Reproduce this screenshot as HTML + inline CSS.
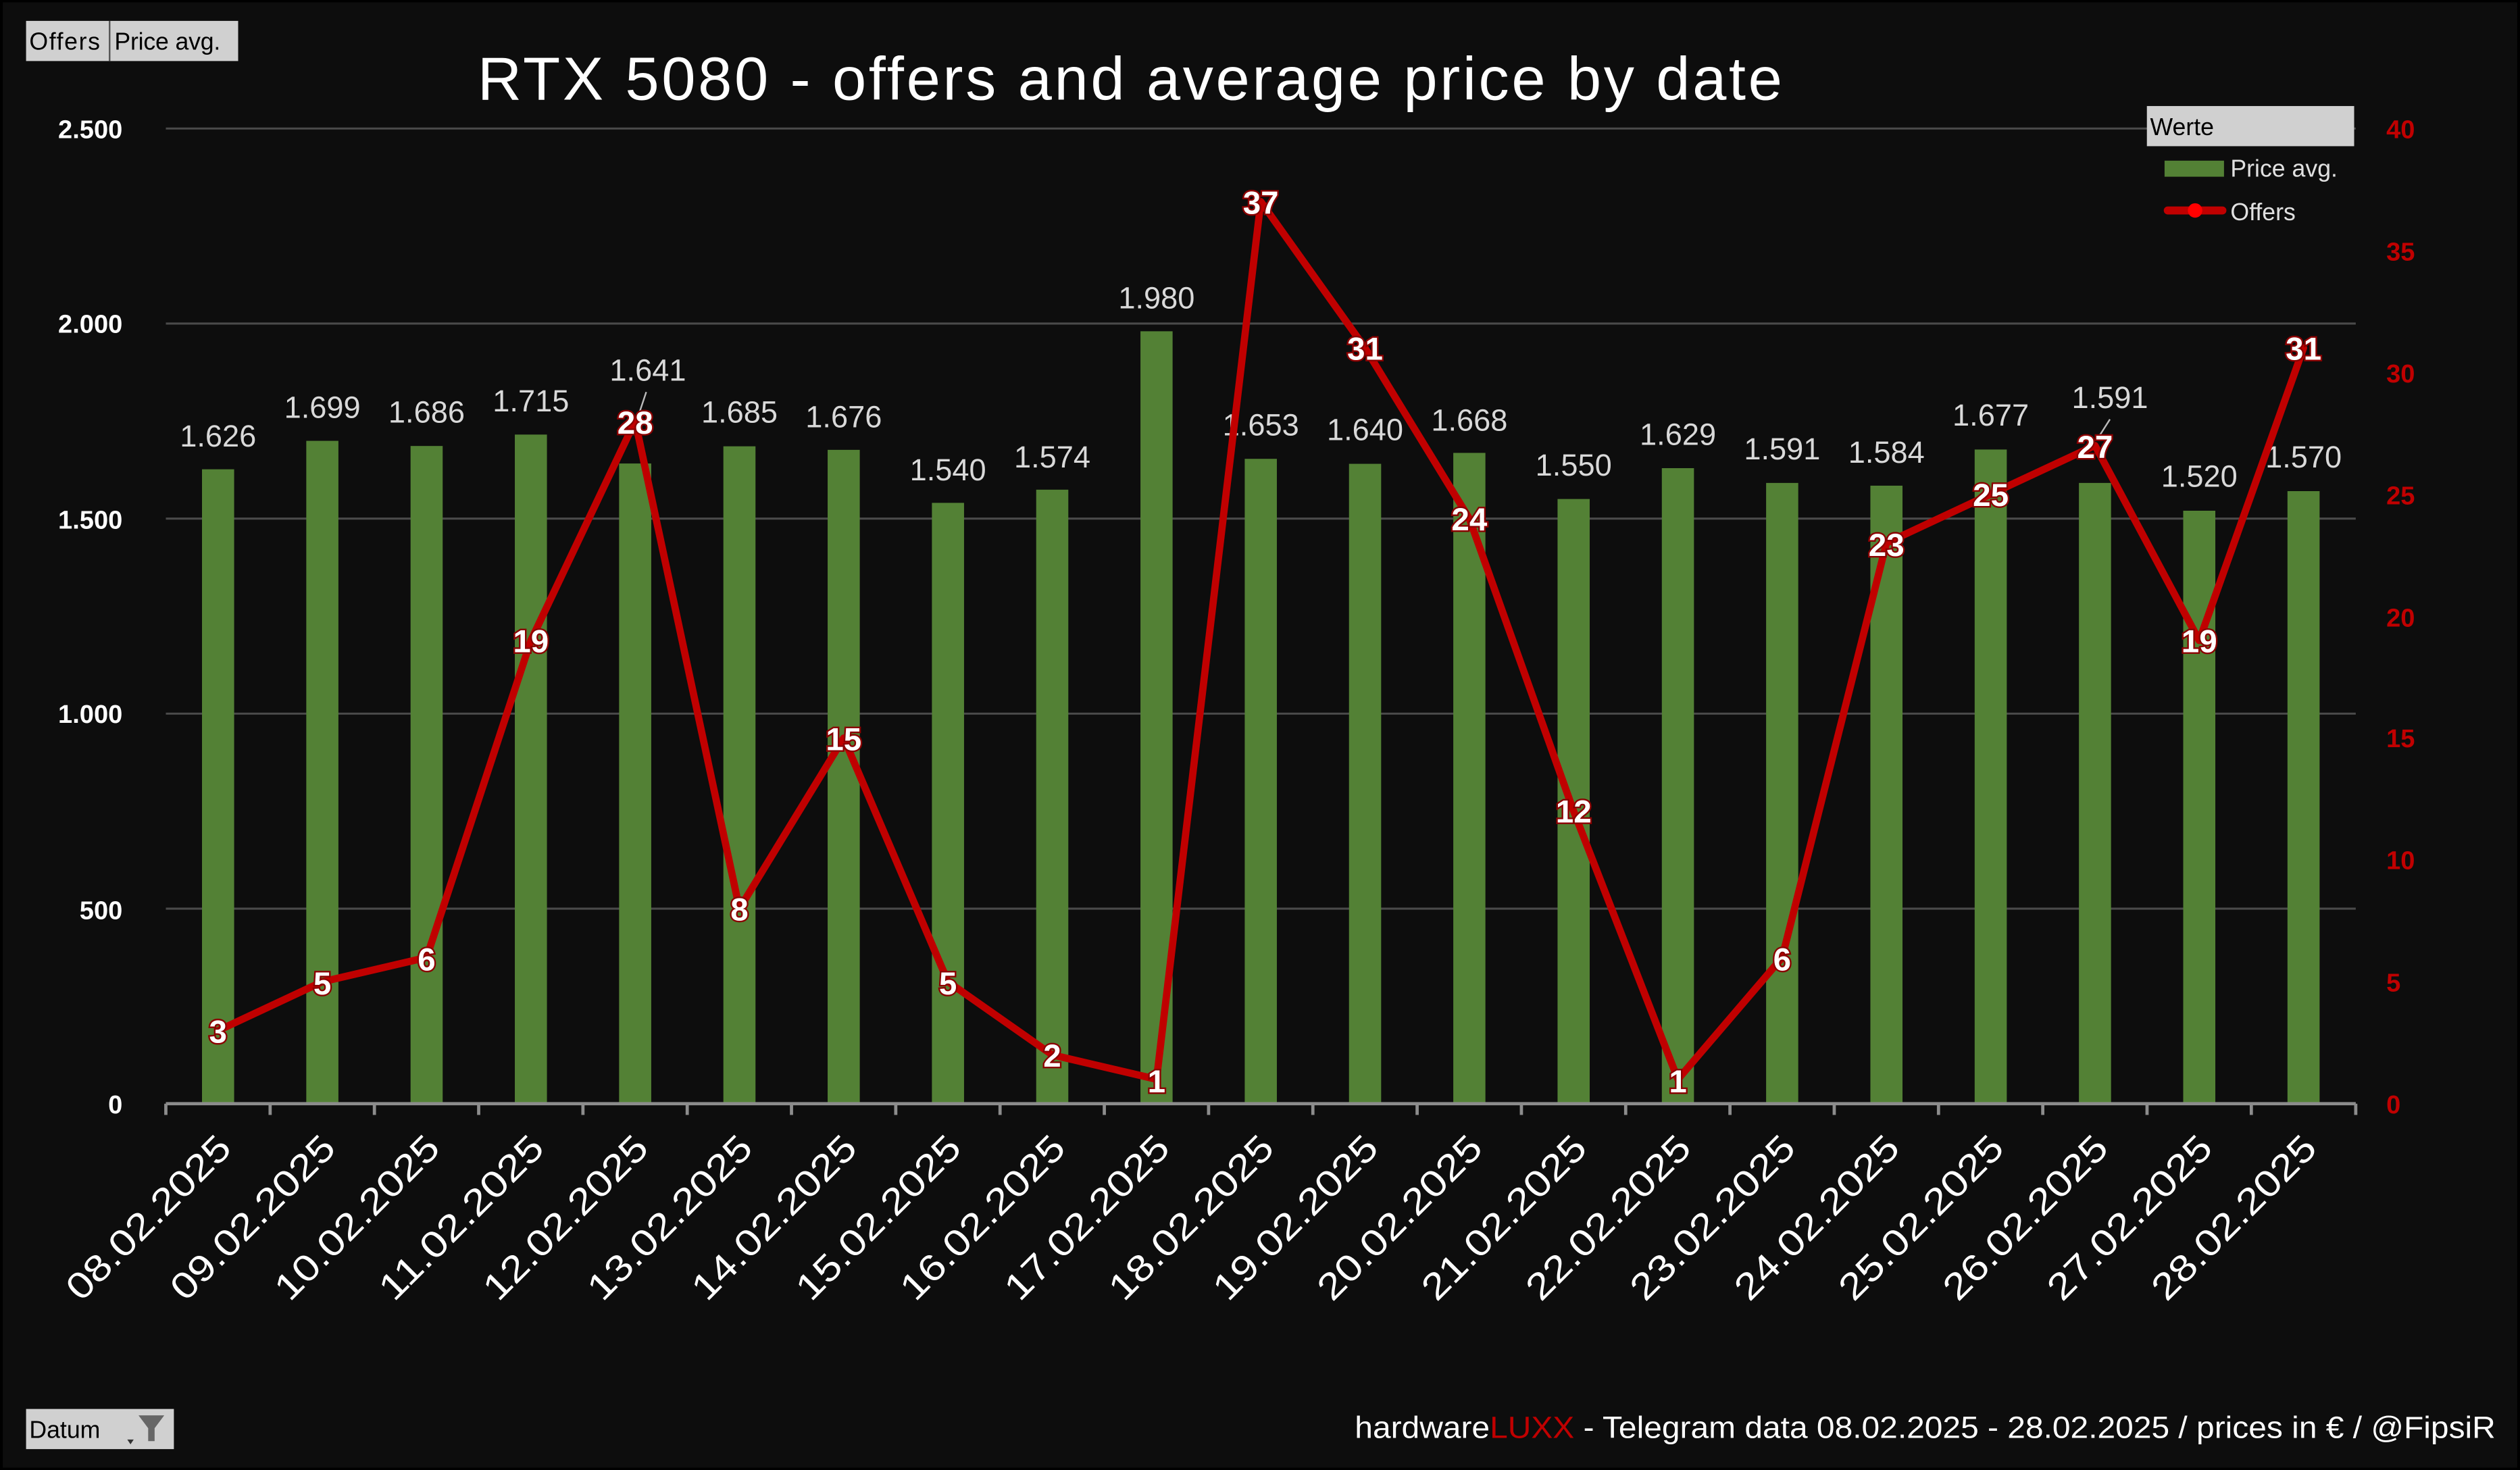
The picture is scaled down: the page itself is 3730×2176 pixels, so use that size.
<!DOCTYPE html>
<html><head><meta charset="utf-8"><style>
html,body{margin:0;padding:0;background:#0d0d0d;}
svg{display:block;}
text{font-family:"Liberation Sans",sans-serif;}
</style></head><body>
<svg width="3730" height="2176" viewBox="0 0 1568 915" xmlns="http://www.w3.org/2000/svg">
<rect x="0" y="0" width="1568" height="915" fill="#0d0d0d"/>
<rect x="0.5" y="0.5" width="1567" height="914" fill="none" stroke="#000" stroke-width="2"/>
<rect x="16" y="13" width="132" height="25" fill="#d0d0d0"/>
<line x1="68" y1="13" x2="68" y2="38" stroke="#555" stroke-width="1"/>
<text x="18" y="31" font-size="15" fill="#000" textLength="44">Offers</text>
<text x="71" y="31" font-size="15" fill="#000" textLength="66">Price avg.</text>
<text x="703" y="62" font-size="38" fill="#fff" text-anchor="middle" textLength="812">RTX 5080 - offers and average price by date</text>
<g stroke="#4a4a4a" stroke-width="1.3">
<line x1="103" y1="80" x2="1466" y2="80"/>
<line x1="103" y1="201.4" x2="1466" y2="201.4"/>
<line x1="103" y1="322.8" x2="1466" y2="322.8"/>
<line x1="103" y1="444.2" x2="1466" y2="444.2"/>
<line x1="103" y1="565.6" x2="1466" y2="565.6"/>
</g>
<g font-size="16" font-weight="bold" fill="#fff" text-anchor="end">
<text x="76" y="86">2.500</text>
<text x="76" y="207">2.000</text>
<text x="76" y="329">1.500</text>
<text x="76" y="450">1.000</text>
<text x="76" y="572">500</text>
<text x="76" y="693">0</text>
</g>
<g font-size="16" font-weight="bold" fill="#c00000">
<text x="1485" y="86">40</text>
<text x="1485" y="162">35</text>
<text x="1485" y="238">30</text>
<text x="1485" y="314">25</text>
<text x="1485" y="390">20</text>
<text x="1485" y="465">15</text>
<text x="1485" y="541">10</text>
<text x="1485" y="617">5</text>
<text x="1485" y="693">0</text>
</g>
<g fill="#538135">
<rect x="125.5" y="292.1" width="20" height="394.9"/>
<rect x="190.4" y="274.4" width="20" height="412.6"/>
<rect x="255.3" y="277.6" width="20" height="409.4"/>
<rect x="320.2" y="270.5" width="20" height="416.5"/>
<rect x="385.1" y="288.5" width="20" height="398.5"/>
<rect x="450" y="277.8" width="20" height="409.2"/>
<rect x="514.9" y="280" width="20" height="407"/>
<rect x="579.8" y="313" width="20" height="374"/>
<rect x="644.7" y="304.8" width="20" height="382.2"/>
<rect x="709.6" y="206.2" width="20" height="480.8"/>
<rect x="774.5" y="285.6" width="20" height="401.4"/>
<rect x="839.4" y="288.7" width="20" height="398.3"/>
<rect x="904.3" y="281.9" width="20" height="405.1"/>
<rect x="969.2" y="310.6" width="20" height="376.4"/>
<rect x="1034.1" y="291.4" width="20" height="395.6"/>
<rect x="1099" y="300.6" width="20" height="386.4"/>
<rect x="1163.9" y="302.3" width="20" height="384.7"/>
<rect x="1228.8" y="279.8" width="20" height="407.2"/>
<rect x="1293.7" y="300.6" width="20" height="386.4"/>
<rect x="1358.6" y="317.9" width="20" height="369.1"/>
<rect x="1423.5" y="305.7" width="20" height="381.3"/>
</g>
<g font-size="19" fill="#d9d9d9" text-anchor="middle">
<text x="135.5" y="278">1.626</text>
<text x="200.4" y="260">1.699</text>
<text x="265.3" y="263">1.686</text>
<text x="330.2" y="256">1.715</text>
<text x="403" y="237">1.641</text>
<text x="460" y="263">1.685</text>
<text x="524.9" y="266">1.676</text>
<text x="589.8" y="299">1.540</text>
<text x="654.7" y="291">1.574</text>
<text x="719.6" y="192">1.980</text>
<text x="784.5" y="271">1.653</text>
<text x="849.4" y="274">1.640</text>
<text x="914.3" y="268">1.668</text>
<text x="979.2" y="296">1.550</text>
<text x="1044.1" y="277">1.629</text>
<text x="1109" y="286">1.591</text>
<text x="1173.9" y="288">1.584</text>
<text x="1238.8" y="265">1.677</text>
<text x="1313" y="254">1.591</text>
<text x="1368.6" y="303">1.520</text>
<text x="1433.5" y="291">1.570</text>
</g>
<g stroke="#bbb" stroke-width="1">
<line x1="402" y1="244" x2="396" y2="262"/>
<line x1="1313" y1="261" x2="1306" y2="272"/>
</g>
<g stroke="#8c8c8c" stroke-width="2">
<line x1="103" y1="687" x2="1466" y2="687"/>
<line x1="103" y1="687" x2="103" y2="694"/><line x1="167.9" y1="687" x2="167.9" y2="694"/><line x1="232.8" y1="687" x2="232.8" y2="694"/><line x1="297.7" y1="687" x2="297.7" y2="694"/><line x1="362.6" y1="687" x2="362.6" y2="694"/><line x1="427.5" y1="687" x2="427.5" y2="694"/><line x1="492.4" y1="687" x2="492.4" y2="694"/><line x1="557.3" y1="687" x2="557.3" y2="694"/><line x1="622.2" y1="687" x2="622.2" y2="694"/><line x1="687.1" y1="687" x2="687.1" y2="694"/><line x1="752" y1="687" x2="752" y2="694"/><line x1="816.9" y1="687" x2="816.9" y2="694"/><line x1="881.8" y1="687" x2="881.8" y2="694"/><line x1="946.7" y1="687" x2="946.7" y2="694"/><line x1="1011.6" y1="687" x2="1011.6" y2="694"/><line x1="1076.5" y1="687" x2="1076.5" y2="694"/><line x1="1141.4" y1="687" x2="1141.4" y2="694"/><line x1="1206.3" y1="687" x2="1206.3" y2="694"/><line x1="1271.2" y1="687" x2="1271.2" y2="694"/><line x1="1336.1" y1="687" x2="1336.1" y2="694"/><line x1="1401" y1="687" x2="1401" y2="694"/><line x1="1466" y1="687" x2="1466" y2="694"/>
</g>
<g font-size="23" fill="#fff" text-anchor="end">
<text transform="translate(145,716) rotate(-45)" textLength="134" lengthAdjust="spacingAndGlyphs">08.02.2025</text>
<text transform="translate(209.9,716) rotate(-45)" textLength="134" lengthAdjust="spacingAndGlyphs">09.02.2025</text>
<text transform="translate(274.8,716) rotate(-45)" textLength="134" lengthAdjust="spacingAndGlyphs">10.02.2025</text>
<text transform="translate(339.7,716) rotate(-45)" textLength="134" lengthAdjust="spacingAndGlyphs">11.02.2025</text>
<text transform="translate(404.6,716) rotate(-45)" textLength="134" lengthAdjust="spacingAndGlyphs">12.02.2025</text>
<text transform="translate(469.5,716) rotate(-45)" textLength="134" lengthAdjust="spacingAndGlyphs">13.02.2025</text>
<text transform="translate(534.4,716) rotate(-45)" textLength="134" lengthAdjust="spacingAndGlyphs">14.02.2025</text>
<text transform="translate(599.3,716) rotate(-45)" textLength="134" lengthAdjust="spacingAndGlyphs">15.02.2025</text>
<text transform="translate(664.2,716) rotate(-45)" textLength="134" lengthAdjust="spacingAndGlyphs">16.02.2025</text>
<text transform="translate(729.1,716) rotate(-45)" textLength="134" lengthAdjust="spacingAndGlyphs">17.02.2025</text>
<text transform="translate(794,716) rotate(-45)" textLength="134" lengthAdjust="spacingAndGlyphs">18.02.2025</text>
<text transform="translate(858.9,716) rotate(-45)" textLength="134" lengthAdjust="spacingAndGlyphs">19.02.2025</text>
<text transform="translate(923.8,716) rotate(-45)" textLength="134" lengthAdjust="spacingAndGlyphs">20.02.2025</text>
<text transform="translate(988.7,716) rotate(-45)" textLength="134" lengthAdjust="spacingAndGlyphs">21.02.2025</text>
<text transform="translate(1053.6,716) rotate(-45)" textLength="134" lengthAdjust="spacingAndGlyphs">22.02.2025</text>
<text transform="translate(1118.5,716) rotate(-45)" textLength="134" lengthAdjust="spacingAndGlyphs">23.02.2025</text>
<text transform="translate(1183.4,716) rotate(-45)" textLength="134" lengthAdjust="spacingAndGlyphs">24.02.2025</text>
<text transform="translate(1248.3,716) rotate(-45)" textLength="134" lengthAdjust="spacingAndGlyphs">25.02.2025</text>
<text transform="translate(1313.2,716) rotate(-45)" textLength="134" lengthAdjust="spacingAndGlyphs">26.02.2025</text>
<text transform="translate(1378.1,716) rotate(-45)" textLength="134" lengthAdjust="spacingAndGlyphs">27.02.2025</text>
<text transform="translate(1443,716) rotate(-45)" textLength="134" lengthAdjust="spacingAndGlyphs">28.02.2025</text>
</g>
<polyline fill="none" stroke="#c00000" stroke-width="4.5" stroke-linejoin="round" stroke-linecap="round"
points="135.5,641.5 200.4,611.1 265.3,596 330.2,398.7 395.1,262.1 460,565.6 524.9,459.4 589.8,611.1 654.7,656.6 719.6,671.8 784.5,125.5 849.4,216.6 914.3,322.8 979.2,504.9 1044.1,671.8 1109,596 1173.9,338 1238.8,307.6 1303.7,277.3 1368.6,398.7 1433.5,216.6"/>
<g font-size="20" font-weight="bold" fill="#fff" text-anchor="middle" stroke="#8b0000" stroke-width="2" paint-order="stroke">
<text x="135.5" y="649">3</text>
<text x="200.4" y="619">5</text>
<text x="265.3" y="604">6</text>
<text x="330.2" y="406">19</text>
<text x="395.1" y="270">28</text>
<text x="460" y="573">8</text>
<text x="524.9" y="467">15</text>
<text x="589.8" y="619">5</text>
<text x="654.7" y="664">2</text>
<text x="719.6" y="680">1</text>
<text x="784.5" y="133">37</text>
<text x="849.4" y="224">31</text>
<text x="914.3" y="330">24</text>
<text x="979.2" y="512">12</text>
<text x="1044.1" y="680">1</text>
<text x="1109" y="604">6</text>
<text x="1173.9" y="346">23</text>
<text x="1238.8" y="315">25</text>
<text x="1303.7" y="285">27</text>
<text x="1368.6" y="406">19</text>
<text x="1433.5" y="224">31</text>
</g>
<rect x="1336" y="66" width="129" height="25" fill="#d0d0d0"/>
<text x="1338" y="84" font-size="15" fill="#000">Werte</text>
<rect x="1347" y="100" width="37" height="10" fill="#538135"/>
<text x="1388" y="110" font-size="15" fill="#e0e0e0">Price avg.</text>
<line x1="1349" y1="131" x2="1383" y2="131" stroke="#c00000" stroke-width="5" stroke-linecap="round"/>
<circle cx="1366" cy="131" r="4.5" fill="#ff0000"/>
<text x="1388" y="137" font-size="15" fill="#e0e0e0">Offers</text>
<rect x="16" y="877" width="92" height="25" fill="#d0d0d0"/>
<text x="18" y="895" font-size="15" fill="#000">Datum</text>
<polygon points="79,896 83,896 81,899" fill="#333"/>
<polygon points="86,881 102,881 96,889 96,897 92,897 92,889" fill="#666"/>
<text x="1553" y="895" font-size="19" fill="#fff" text-anchor="end" textLength="710" lengthAdjust="spacingAndGlyphs">hardware<tspan fill="#c00000">LUXX</tspan> - Telegram data 08.02.2025 - 28.02.2025 / prices in € / @FipsiR</text>
</svg>
</body></html>
